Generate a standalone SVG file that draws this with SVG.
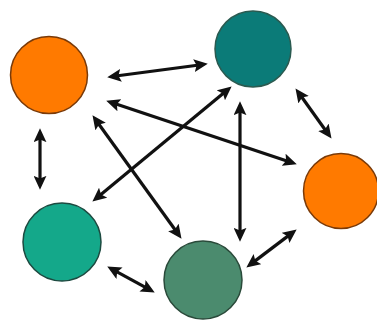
<svg xmlns="http://www.w3.org/2000/svg" width="377" height="320" viewBox="0 0 377 320">
<defs>
<style>
.node{stroke-width:1.5}
.conn line{stroke:#111;stroke-width:3.2;marker-start:url(#ah);marker-end:url(#ah)}
</style>
<marker id="ah" markerUnits="userSpaceOnUse" markerWidth="15" markerHeight="13" viewBox="0 0 14 12" refX="8.5" refY="6" orient="auto-start-reverse">
<path d="M0,0 L13,6 L0,12 L2.5,6 z" fill="#111"/>
</marker>
</defs>
<rect width="377" height="320" fill="#fff"/>
<g id="n1"><circle class="node" cx="49" cy="75" r="38.5" fill="#FF7A00" stroke="#7a3a08"/></g>
<g id="n2"><circle class="node" cx="253" cy="49" r="38" fill="#0B7B78" stroke="#2a5a50"/></g>
<g id="n3"><circle class="node" cx="341" cy="191" r="37.5" fill="#FF7A00" stroke="#7a3a08"/></g>
<g id="n4"><circle class="node" cx="62" cy="242" r="39" fill="#14A88A" stroke="#1c4a40"/></g>
<g id="n5"><circle class="node" cx="203" cy="280" r="39" fill="#4B8B6E" stroke="#2a4a3a"/></g>
<g id="connectors" class="conn">
<line x1="112" y1="76.5" x2="203" y2="64.5"/>
<line x1="110.8" y1="102.3" x2="292.2" y2="162.7"/>
<line x1="95.3" y1="119.2" x2="178.7" y2="234.8"/>
<line x1="227.9" y1="89.5" x2="96.1" y2="198.5"/>
<line x1="240" y1="106" x2="240" y2="237"/>
<line x1="298.3" y1="92.3" x2="328.7" y2="134.7"/>
<line x1="40" y1="133" x2="40" y2="185"/>
<line x1="111.5" y1="268.9" x2="150.5" y2="290.1"/>
<line x1="250.2" y1="264.6" x2="292.8" y2="232.4"/>
</g>
</svg>
